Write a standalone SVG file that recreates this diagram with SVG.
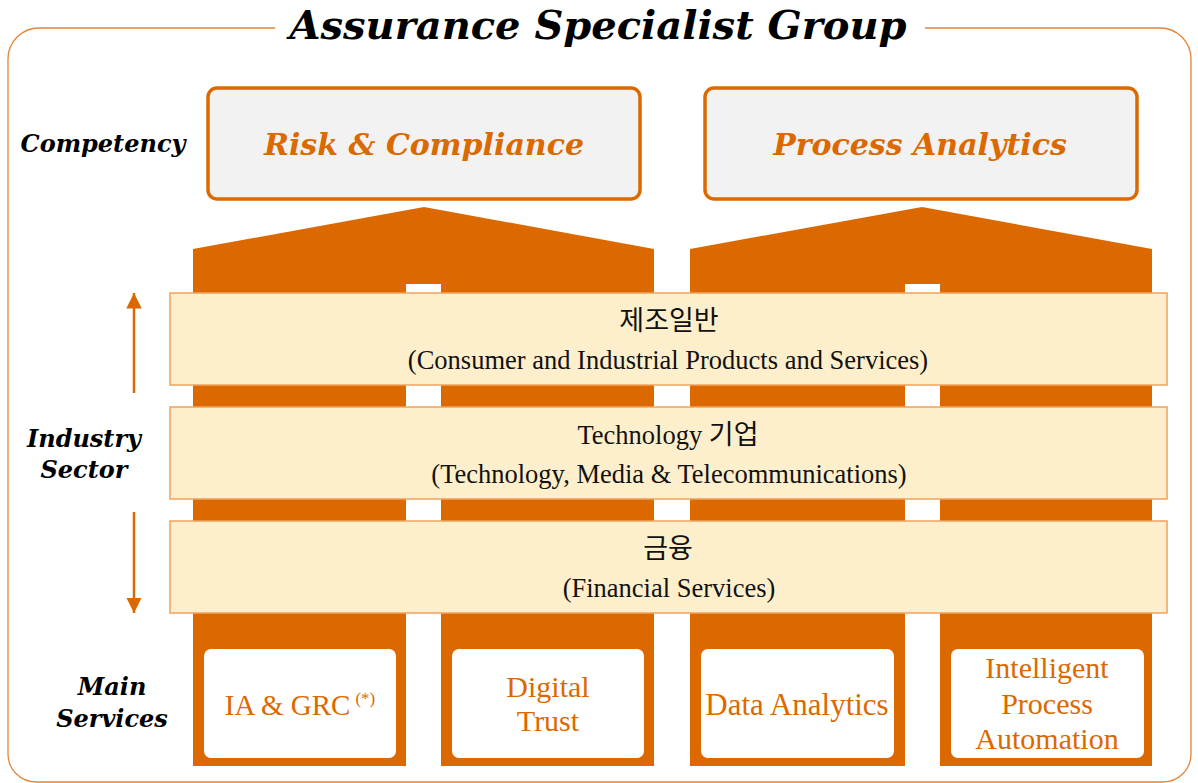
<svg xmlns="http://www.w3.org/2000/svg" width="1198" height="783" viewBox="0 0 1198 783">
<style>
.lbl{font-family:"DejaVu Serif","Liberation Serif",serif;font-weight:bold;font-style:italic;font-size:24px;fill:#000;text-anchor:middle}
.comp{fill:#F2F2F2;stroke:#DC6900;stroke-width:3.5}
.compt{font-family:"DejaVu Serif","Liberation Serif",serif;font-weight:bold;font-style:italic;font-size:30px;fill:#DC6900;text-anchor:middle}
.house{fill:#DC6900}
.band{fill:#FDEFCB;stroke:#EFA25C;stroke-width:1.5}
.ko{font-family:"Noto Sans CJK KR","Noto Sans",sans-serif;font-size:27px;fill:#111}
.en{font-family:"Liberation Serif",serif;font-size:26.5px;fill:#111;text-anchor:middle}
.svc{fill:#FFFFFF}
.svct{font-family:"Liberation Serif",serif;font-size:30px;fill:#DC6900;text-anchor:middle}
.arr{stroke:#DC6900;stroke-width:2.5;fill:none}
</style>
<defs>
<marker id="ah" viewBox="0 0 10 10" refX="10" refY="5" markerWidth="6.2" markerHeight="6.2" markerUnits="strokeWidth" orient="auto">
<path d="M0,0 L10,5 L0,10 Z" fill="#DC6900"/>
</marker>
</defs>
<rect width="1198" height="783" fill="#FFFFFF"/>
<g id="frame">
<path d="M275,28 L39,28 A31,31 0 0 0 8,59 L8,754 A28,28 0 0 0 36,782 L1163,782 A28,28 0 0 0 1191,754 L1191,59 A31,31 0 0 0 1160,28 L925,28" fill="none" stroke="#E4843A" stroke-width="1.3"/>
<text x="598" y="39" font-family="DejaVu Serif, Liberation Serif, serif" font-weight="bold" font-style="italic" font-size="40" fill="#000" text-anchor="middle">Assurance Specialist Group</text>
</g>
<g id="row-labels">
<text class="lbl" x="103" y="152">Competency</text>
<text class="lbl" x="84" y="447">Industry</text>
<text class="lbl" x="84" y="478">Sector</text>
<text class="lbl" x="112" y="695">Main</text>
<text class="lbl" x="112" y="727">Services</text>
</g>
<g id="competency-risk">
<rect class="comp" x="208" y="88" width="432" height="111" rx="9"/>
<text class="compt" x="424" y="155">Risk &amp; Compliance</text>
</g>
<g id="competency-process">
<rect class="comp" x="705" y="88" width="432" height="111" rx="9"/>
<text class="compt" x="920" y="155">Process Analytics</text>
</g>
<g id="house-left">
<path class="house" d="M193,249 L424,207 L654,249 L654,766 L441,766 L441,284 L406,284 L406,766 L193,766 Z"/>
</g>
<g id="house-right">
<path class="house" d="M690,249 L922,207 L1152,249 L1152,766 L940,766 L940,284 L905,284 L905,766 L690,766 Z"/>
</g>
<g id="connectors">
<line class="arr" x1="134" y1="393" x2="134" y2="293" marker-end="url(#ah)"/>
<line class="arr" x1="134" y1="512" x2="134" y2="613" marker-end="url(#ah)"/>
</g>
<g id="band-cips">
<rect class="band" x="170" y="293" width="997" height="92"/>
<text class="ko" x="669" y="330" text-anchor="middle">제조일반</text>
<text class="en" x="668" y="369">(Consumer and Industrial Products and Services)</text>
</g>
<g id="band-tmt">
<rect class="band" x="170" y="407" width="997" height="92"/>
<text x="668" y="444" text-anchor="middle" font-size="26.5" fill="#111"><tspan font-family="Liberation Serif, serif">Technology </tspan><tspan font-family="Noto Sans CJK KR, sans-serif" font-size="27">기업</tspan></text>
<text class="en" x="669" y="483">(Technology, Media &amp; Telecommunications)</text>
</g>
<g id="band-fs">
<rect class="band" x="170" y="521" width="997" height="92"/>
<text class="ko" x="668" y="558" text-anchor="middle">금융</text>
<text class="en" x="669" y="597">(Financial Services)</text>
</g>
<g id="svc-ia-grc">
<rect class="svc" x="204" y="649" width="192" height="109" rx="7"/>
<text class="svct" x="300" y="715"><tspan font-size="29">IA &amp; GRC</tspan><tspan font-size="17" dx="5" dy="-11">(*)</tspan></text>
</g>
<g id="svc-digital-trust">
<rect class="svc" x="452" y="649" width="192" height="109" rx="7"/>
<text class="svct" x="548" y="697">Digital</text>
<text class="svct" x="548" y="731">Trust</text>
</g>
<g id="svc-data-analytics">
<rect class="svc" x="701" y="649" width="193" height="109" rx="7"/>
<text class="svct" x="797" y="715" style="font-size:31px">Data Analytics</text>
</g>
<g id="svc-ipa">
<rect class="svc" x="951" y="649" width="193" height="109" rx="7"/>
<text class="svct" x="1047" y="678">Intelligent</text>
<text class="svct" x="1047" y="714">Process</text>
<text class="svct" x="1047" y="749">Automation</text>
</g>
</svg>
